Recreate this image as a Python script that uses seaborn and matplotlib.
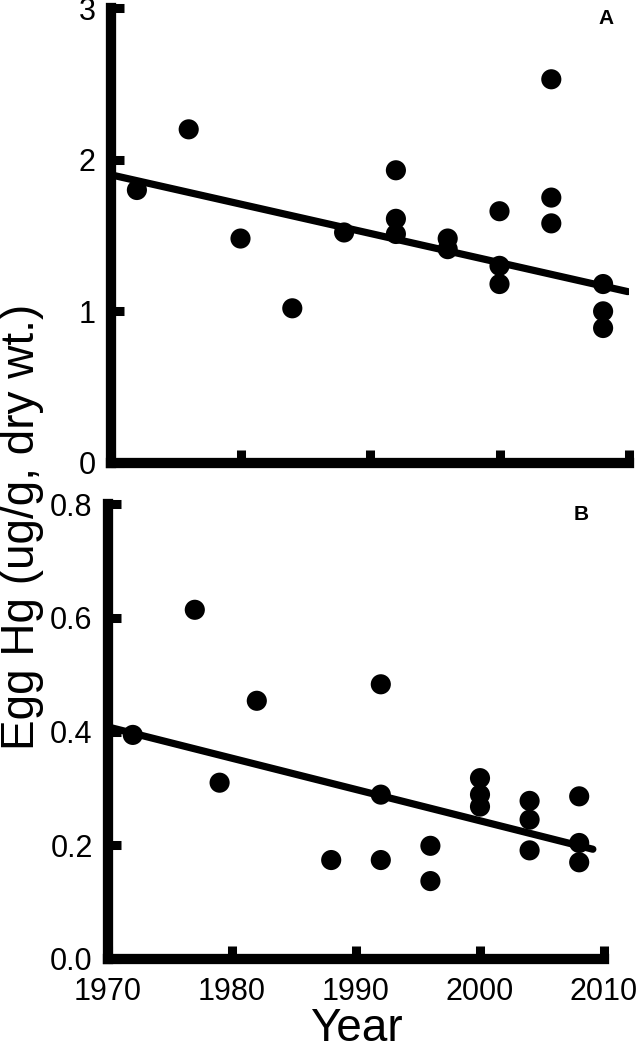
import numpy as np
import pandas as pd
import seaborn as sns
import matplotlib
matplotlib.use('Agg')
import matplotlib.pyplot as plt

# panel A: egg Hg (ug/g dry wt.)
years_a = [1972, 1976, 1980, 1984, 1988, 1992, 1992, 1992, 1996, 1996,
           2000, 2000, 2000, 2004, 2004, 2004, 2008, 2008, 2008]
hg_a = [1.80, 2.20, 1.48, 1.02, 1.52, 1.93, 1.61, 1.51, 1.48, 1.41,
        1.66, 1.30, 1.18, 2.53, 1.75, 1.58, 1.18, 1.00, 0.89]
trend_years_a = [1970, 2009.9]
trend_hg_a = [1.90, 1.13]

# panel B
years_b = [1972, 1977, 1979, 1982, 1988, 1992, 1992, 1992, 1996, 1996,
           2000, 2000, 2000, 2004, 2004, 2004, 2008, 2008, 2008]
hg_b = [0.394, 0.614, 0.310, 0.454, 0.174, 0.483, 0.289, 0.174, 0.199, 0.137,
        0.318, 0.289, 0.268, 0.278, 0.245, 0.191, 0.286, 0.204, 0.170]
trend_years_b = [1970, 2009.1]
trend_hg_b = [0.408, 0.193]

x_ticks = [1970, 1980, 1990, 2000, 2010]
y_ticks_a = [0, 1, 2, 3]
y_ticks_b = [0.0, 0.2, 0.4, 0.6, 0.8]

sns.set_style('ticks', {'axes.edgecolor': 'black', 'xtick.color': 'black',
                        'ytick.color': 'black', 'text.color': 'black',
                        'axes.labelcolor': 'black'})
plt.rcParams['font.family'] = ['Liberation Sans', 'DejaVu Sans']

W, H = 637, 1050
fig = plt.figure(figsize=(W / 100, H / 100), dpi=100)
ax_a = fig.add_axes([111 / W, 1 - 463 / H, (629 - 111) / W, 455 / H])
ax_b = fig.add_axes([108 / W, 1 - 959 / H, (604 - 108) / W, 455 / H])


def draw(ax, xs, ys, tx, ty, yticks, ylim, letter, show_xlabels):
    sns.scatterplot(x=xs, y=ys, s=210, color='black', edgecolor='none', ax=ax)
    sns.lineplot(x=tx, y=ty, color='black', lw=5.2, ax=ax)
    ax.set_xlim(1970, 2010)
    ax.set_ylim(*ylim)
    ax.set_xticks(x_ticks)
    ax.set_yticks(yticks)
    if show_xlabels:
        ax.set_xticklabels([str(t) for t in x_ticks])
    else:
        ax.set_xticklabels([])
    if ylim[1] < 1:
        ax.set_yticklabels([f'{t:.1f}' for t in yticks])
    else:
        ax.set_yticklabels([str(t) for t in yticks])
    for s in ['top', 'right']:
        ax.spines[s].set_visible(False)
    for s in ['left', 'bottom']:
        ax.spines[s].set_linewidth(7.4)
        ax.spines[s].set_color('black')
    ax.tick_params(direction='in', length=9.5, width=6.5, labelsize=22,
                   colors='black')
    ax.tick_params(axis='y', pad=11)
    ax.tick_params(axis='x', pad=13)
    ax.text(0.955, 0.976, letter, transform=ax.transAxes, ha='center',
            va='center', fontsize=15, fontweight='bold', color='black')
    ax.set_xlabel('')
    ax.set_ylabel('')


draw(ax_a, years_a, hg_a, trend_years_a, trend_hg_a, y_ticks_a, (0, 3), 'A', False)
draw(ax_b, years_b, hg_b, trend_years_b, trend_hg_b, y_ticks_b, (0, 0.8), 'B', True)

fig.text(356 / W, 1 - 1029 / H, 'Year', ha='center', va='center', fontsize=33,
         color='black')
fig.text(22 / W, 1 - 527 / H, 'Egg Hg (ug/g, dry wt.)', rotation=90,
         ha='center', va='center', fontsize=33, color='black')

fig.savefig('out.png', dpi=100)
